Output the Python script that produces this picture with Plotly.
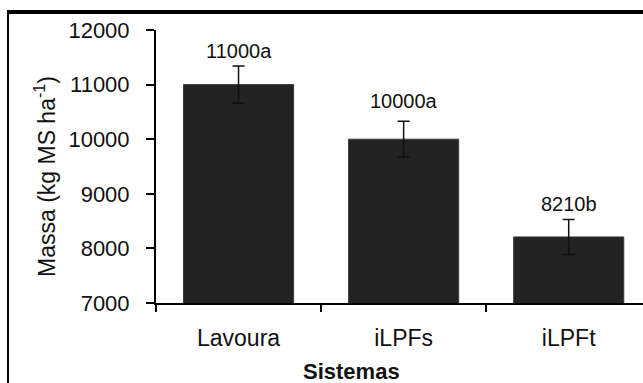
import plotly.graph_objects as go

categories = ["Lavoura", "iLPFs", "iLPFt"]
values = [11000, 10000, 8210]
errors = [340, 330, 320]
letters = ["a", "a", "b"]
yticks = [7000, 8000, 9000, 10000, 11000, 12000]
yticklabels = ["7000", "8000", "9000", "10000", "11000", "12000"]

W, H = 643, 383
# plot region in window pixels
PX0, PX1 = 156, 643
PY0, PY1 = 30, 303

def fx(x):
    return x / W

def fy(y):
    return (H - y) / H

FONT = "Liberation Sans, Arial, sans-serif"

fig = go.Figure()
fig.add_trace(go.Bar(
    x=categories, y=values, width=0.667,
    marker=dict(color="#232323", line=dict(color="#3a3a3a", width=1)),
    error_y=dict(type="data", array=errors, visible=True, color="#111111", thickness=1.5, width=6),
    showlegend=False, hoverinfo="skip",
))
# empty trace that carries the outer chart frame (top edge)
fig.add_trace(go.Scatter(x=[], y=[], xaxis="x2", yaxis="y2", showlegend=False, hoverinfo="skip"))

label_shift = [2, 7, 2]
for c, v, e, l, s in zip(categories, values, errors, letters, label_shift):
    fig.add_annotation(x=c, y=v + e, text=f"{v}{l}", showarrow=False,
                       xanchor="center", yanchor="bottom", yshift=s,
                       font=dict(family=FONT, size=20, color="#111111"))

fig.add_annotation(xref="paper", yref="paper", x=fx(45), y=fy(177),
                   xanchor="center", yanchor="middle",
                   text="Massa (kg MS ha<sup>-1</sup>)", textangle=-90, showarrow=False,
                   font=dict(family=FONT, size=23, color="#111111"))
fig.add_annotation(xref="paper", yref="paper", x=fx(351), y=fy(371),
                   xanchor="center", yanchor="middle",
                   text="<b>Sistemas</b>", showarrow=False,
                   font=dict(family=FONT, size=22, color="#111111"))

# outer chart border: left edge
fig.add_shape(type="line", xref="paper", yref="paper",
              x0=fx(8), x1=fx(8), y0=0, y1=fy(12),
              line=dict(color="black", width=2), layer="below")
# outer chart border: top edge
fig.add_shape(type="line", xref="paper", yref="paper",
              x0=fx(8), x1=1, y0=fy(13), y1=fy(13),
              line=dict(color="black", width=2), layer="below")

frame_axis = dict(ticks="", showticklabels=False, showgrid=False, zeroline=False, fixedrange=True)

fig.update_layout(
    width=W, height=H,
    margin=dict(l=0, r=0, t=0, b=0, pad=0, autoexpand=False),
    paper_bgcolor="white", plot_bgcolor="rgba(0,0,0,0)",
    font=dict(family=FONT, color="#111111"),
    xaxis=dict(
        type="category", range=[-0.5, 2.45], domain=[fx(PX0), fx(PX1)],
        showline=True, linecolor="black", linewidth=2,
        ticks="outside", tickson="boundaries", ticklen=7, tickwidth=2, tickcolor="black",
        tickfont=dict(size=23, family=FONT, color="#111111"),
        ticklabelstandoff=13,
        showgrid=False, zeroline=False,
    ),
    yaxis=dict(
        range=[7000, 12000], domain=[fy(PY1), fy(PY0)],
        tickmode="array", tickvals=yticks, ticktext=yticklabels,
        showline=True, linecolor="black", linewidth=2,
        ticks="outside", ticklen=8, tickwidth=2, tickcolor="black",
        tickfont=dict(size=22, family=FONT, color="#111111"),
        ticklabelstandoff=12,
        showgrid=False, zeroline=False,
    ),
    xaxis2=dict(domain=[fx(7), 1], anchor="y2", side="top", range=[0, 1],
                showline=True, linecolor="black", linewidth=2, **frame_axis),
    yaxis2=dict(domain=[0, fy(12)], anchor="x2", side="left", range=[0, 1],
                showline=False, **frame_axis),
    bargap=0.333,
    hovermode=False,
)

fig.write_html(
    "out.html",
    config={"displayModeBar": False, "staticPlot": True},
    post_script="document.body.style.margin='0';document.body.style.overflow='hidden';",
)
